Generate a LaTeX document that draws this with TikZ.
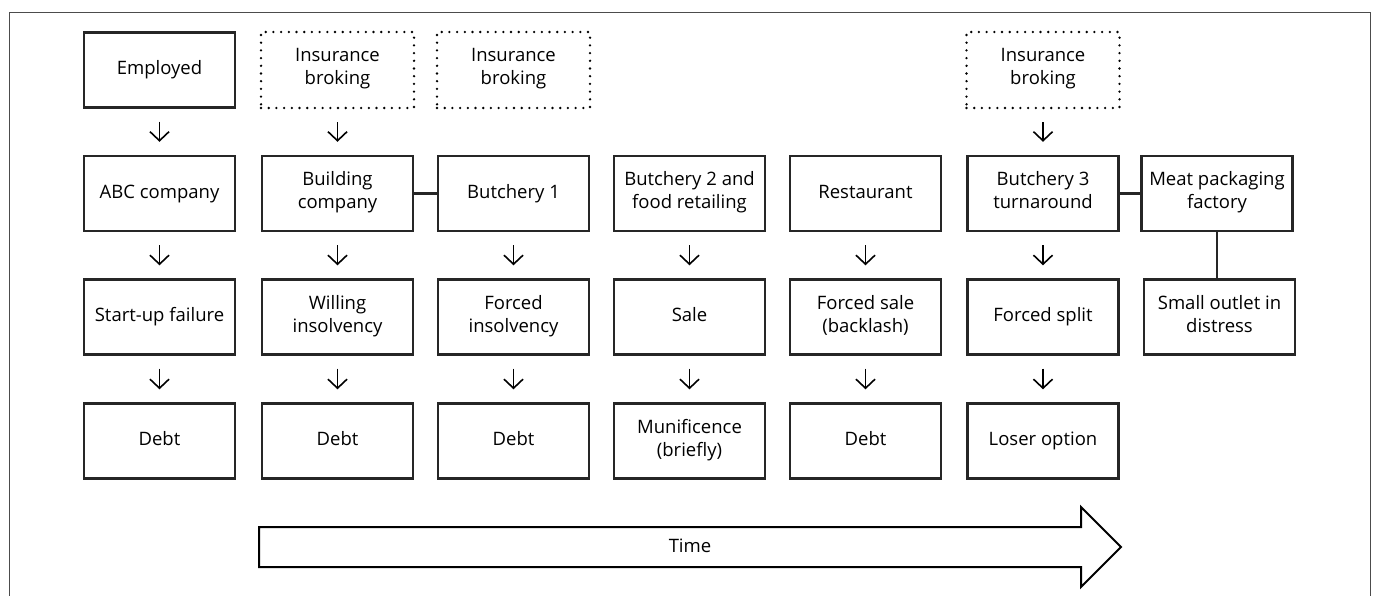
\documentclass[tikz,border=0pt]{standalone}
\usepackage{fontspec}
\setmainfont{Open Sans}
\usetikzlibrary{arrows.meta}
\begin{document}
\begin{tikzpicture}[x=1pt,y=-1pt,
  every node/.style={font=\fontsize{18.5}{23}\selectfont, align=center, inner sep=0pt,
    execute at begin node=\strut, execute at end node=\strut},
  box/.style={draw, line width=2.4pt, draw=black!85, minimum width=151pt, minimum height=75pt},
  dotbox/.style={draw, line width=2.6pt, line cap=round, dash pattern=on 0pt off 7.7pt, minimum width=153pt, minimum height=76pt},
  down/.style={-{Straight Barb[length=9pt,width=19pt]}, line width=1.6pt, shorten <=13pt, shorten >=13pt},
  link/.style={line width=2.2pt, draw=black!85}]
\useasboundingbox (0,0) rectangle (1376,596);
\draw[black!70, line width=1pt] (9,596) -- (9,13) -- (1370,13) -- (1370,596);
% row 1
\node[box] (a1) at (159.5,70) {Employed};
\node[dotbox] (b1) at (337.5,70) {Insurance\\broking};
\node[dotbox] (c1) at (513.5,70) {Insurance\\broking};
\node[dotbox] (f1) at (1043,70) {Insurance\\broking};
% row 2
\node[box] (a2) at (159.5,193.5) {ABC company};
\node[box] (b2) at (337.5,193.5) {Building\\company};
\node[box] (c2) at (513.5,193.5) {Butchery 1};
\node[box] (d2) at (689.5,193.5) {Butchery 2 and\\food retailing};
\node[box] (e2) at (865.5,193.5) {Restaurant};
\node[box] (f2) at (1043,193.5) {Butchery 3\\turnaround};
\node[box] (g2) at (1217,193.5) {Meat packaging\\factory};
% row 3
\node[box] (a3) at (159.5,317) {Start-up failure};
\node[box] (b3) at (337.5,317) {Willing\\insolvency};
\node[box] (c3) at (513.5,317) {Forced\\insolvency};
\node[box] (d3) at (689.5,317) {Sale};
\node[box] (e3) at (865.5,317) {Forced sale\\(backlash)};
\node[box] (f3) at (1043,317) {Forced split};
\node[box] (g3) at (1219.5,317) {Small outlet in\\distress};
% row 4
\node[box] (a4) at (159.5,441) {Debt};
\node[box] (b4) at (337.5,441) {Debt};
\node[box] (c4) at (513.5,441) {Debt};
\node[box] (d4) at (689.5,441) {Munificence\\(briefly)};
\node[box] (e4) at (865.5,441) {Debt};
\node[box] (f4) at (1043,441) {Loser option};
% arrows
\foreach \c in {a,b,f}{\draw[down] (\c1) -- (\c2);}
\foreach \c in {a,b,c,d,e,f}{\draw[down] (\c2) -- (\c3); \draw[down] (\c3) -- (\c4);}
% links
\draw[link] (b2) -- (c2);
\draw[link] (f2) -- (g2);
\draw[link] (g2.south) -- (g2.south |- g3.north);
% time arrow
\draw[line width=2pt, line join=miter] (259,527) -- (1081,527) -- (1081,507) -- (1121,547) -- (1081,587) -- (1081,567) -- (259,567) -- cycle;
\node (time) at (690,548) {Time};
\end{tikzpicture}
\end{document}
